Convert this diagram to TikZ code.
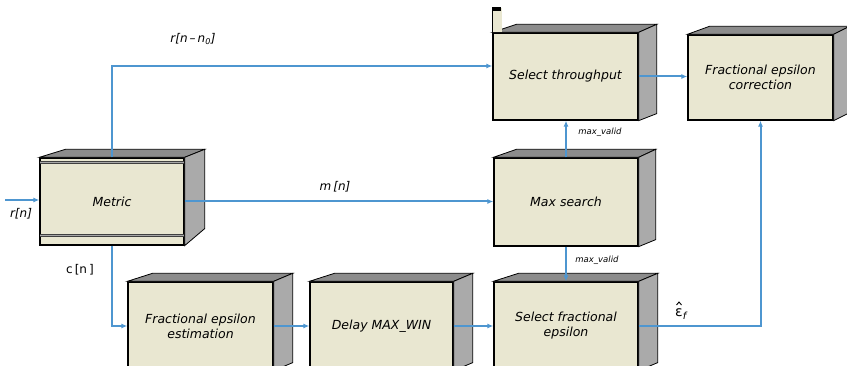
\documentclass[tikz,border=0pt]{standalone}
\usepackage{fontspec}
\setmainfont{DejaVu Sans}
\usetikzlibrary{arrows.meta,calc}
\definecolor{beige}{RGB}{233,231,209}
\definecolor{sidegray}{RGB}{170,170,170}
\definecolor{topgray}{RGB}{140,140,140}
\definecolor{wire}{RGB}{78,150,208}
\newcommand{\cubeface}[3]{%
  \fill[topgray,draw=black,line width=0.8pt] (#1.north west) -- ++(#2+6,-8) -- ($(#1.north east)+(#2,-8)$) -- (#1.north east) -- cycle;
  \fill[sidegray,draw=black,line width=0.8pt] (#1.north east) -- ++(#2,-8) -- ($(#1.south east)+(#2,-#3)$) -- (#1.south east) -- cycle;
}
\begin{document}
\begin{tikzpicture}[x=1pt,y=-1pt,
  blk/.style={draw=black,line width=1.3pt,fill=beige,inner sep=2pt,align=center,
    font=\fontsize{12.5}{15}\selectfont\itshape},
  wire/.style={draw=wire,line width=2pt},
  arr/.style={wire,-{Latex[length=6pt,width=5pt]}},
  lab/.style={inner sep=1pt,font=\fontsize{12}{14}\selectfont\itshape},
  small/.style={inner sep=1pt,font=\fontsize{8.5}{10}\selectfont\itshape}]
\useasboundingbox (0,0) rectangle (847,366);
\clip (0,0) rectangle (847,366);
% boxes
\node[blk,minimum width=144pt,minimum height=87pt] (metric) at (112,201.5) {Metric};
\node[blk,minimum width=145pt,minimum height=87pt] (selthr) at (565.5,76.5) {Select throughput};
\node[blk,minimum width=145pt,minimum height=85pt] (fcorr) at (760.5,77.5) {Fractional epsilon\\correction};
\node[blk,minimum width=144pt,minimum height=88pt] (maxs) at (566,202) {Max search};
\node[blk,minimum width=145pt,minimum height=88pt] (fest) at (200.5,326) {Fractional epsilon\\estimation};
\node[blk,minimum width=143pt,minimum height=88pt] (delay) at (381.5,326) {Delay MAX\_WIN};
\node[blk,minimum width=144pt,minimum height=88pt] (selfrac) at (566,326) {Select fractional\\epsilon};
\cubeface{metric}{20}{17}
\cubeface{selthr}{18}{7}
\cubeface{fcorr}{16}{8}
\cubeface{maxs}{17}{7}
\cubeface{fest}{19}{8}
\cubeface{delay}{19}{8}
\cubeface{selfrac}{19}{8}
% metric stripes
\draw[draw=black!75,line width=0.6pt,double=black!35,double distance=1.2pt]
  ($(metric.north west)+(0.7,5)$) -- ($(metric.north east)+(-0.7,5)$);
\draw[draw=black!75,line width=0.6pt,double=black!35,double distance=1.2pt]
  ($(metric.south west)+(0.7,-10)$) -- ($(metric.south east)+(-0.7,-10)$);
% tab on select throughput
\fill[beige] ($(selthr.north west)+(0.7,0)$) rectangle ($(selthr.north west)+(10,-24)$);
\draw[black,line width=1.3pt] (selthr.north west) -- ++(0,-24);
\fill[black] ($(selthr.north west)+(-0.7,-21)$) rectangle ($(selthr.north west)+(9,-25)$);
% connectors
\coordinate (in) at (5,200);
\draw[arr] (in) -- (metric.west |- in);
\draw[arr] (metric.north) |- ([yshift=10.5pt]selthr.west);
\draw[arr] (metric.east) -- (maxs.west |- metric.east);
\draw[arr] (metric.south) |- (fest.west);
\draw[arr] (fest.east) -- (delay.west);
\draw[arr] (delay.east) -- (selfrac.west);
\draw[arr] (maxs.north) -- (maxs.north |- selthr.south);
\draw[arr] (maxs.south) -- (maxs.south |- selfrac.north);
\draw[arr] (selthr.east) -- (fcorr.west |- selthr.east);
\draw[arr] (selfrac.east) -| (fcorr.south);
% labels
\node[lab] (lrn) at (21,214) {r[n]};
\node[lab] (lrnn) at (193,39) {r[n\,–\,n\textsubscript{0}]};
\node[lab] (lmn) at (335,187) {m\,[n]};
\node[inner sep=1pt,font=\fontsize{12}{14}\selectfont] (lcn) at (80,270) {c\,[n\,]};
\node[small] (lmv1) at (600,132) {max\_valid};
\node[small] (lmv2) at (597,260) {max\_valid};
\node[inner sep=0pt,anchor=base west,font=\fontsize{14}{16}\selectfont] (leps) at (675,317) {ε\textsubscript{\itshape f}};
\draw[line width=0.9pt] ($(leps.base west)+(1.5,-12)$) -- ++(2.5,-3) -- ++(2.5,3);
\end{tikzpicture}
\end{document}
